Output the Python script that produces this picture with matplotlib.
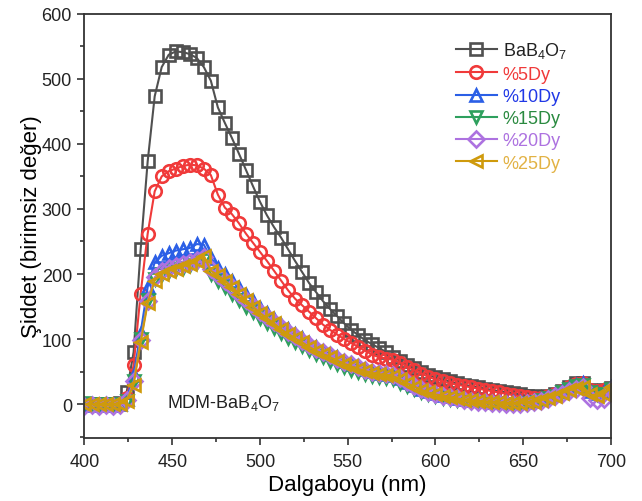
import matplotlib
matplotlib.use("Agg")
import matplotlib.pyplot as plt
from matplotlib.ticker import MultipleLocator

plt.rcParams['font.family'] = ['Liberation Sans', 'DejaVu Sans']
plt.rcParams['mathtext.default'] = 'regular'

# Wavelength grid (nm)
wavelength = list(range(400, 701, 4))

bab4o7 = [0, 0, 0, 0, 0, 2,
          18, 80, 238, 373, 473, 518, 537, 542, 541, 538, 532, 518, 497, 456, 432, 409,
          385, 360, 335, 311, 290, 272, 256, 238, 220, 203,
          186, 172, 158, 146, 135, 124, 114, 106, 98, 92,
          86, 80, 73, 66, 60, 55, 50, 45, 41, 38,
          35, 32, 30, 28, 26, 24, 22, 20, 18, 17,
          15, 13, 12, 11, 12, 15, 20, 26, 32, 33,
          22, 20, 22, 25]
dy5 = [0, 0, 0, 0, 0, 1,
       10, 60, 170, 262, 327, 350, 358, 362, 366, 368, 367, 362, 352, 322, 302, 292,
       278, 262, 248, 234, 220, 205, 190, 175, 162, 152,
       142, 132, 122, 114, 107, 100, 94, 88, 82, 76,
       72, 70, 68, 64, 57, 52, 47, 42, 38, 35,
       32, 30, 28, 26, 24, 22, 20, 18, 16, 14,
       12, 11, 10, 10, 12, 15, 20, 26, 31, 32,
       22, 20, 22, 24]
dy10 = [-2, 0, -1, 0, -1, 1,
        8, 45, 110, 180, 218, 228, 232, 236, 238, 240, 246, 245, 225, 210, 200, 190,
        178, 168, 158, 148, 140, 131, 122, 115, 108, 101,
        94, 88, 82, 77, 72, 67, 62, 58, 54, 51,
        48, 47, 45, 40, 34, 29, 24, 20, 17, 14,
        12, 10, 8, 7, 6, 5, 4, 4, 3, 3,
        3, 4, 5, 8, 11, 15, 20, 25, 30, 33,
        20, 17, 18, 26]
dy15 = [2, 0, 1, 0, 1, 0,
        5, 35, 100, 160, 192, 200, 204, 207, 210, 214, 218, 222, 200, 190, 180, 170,
        160, 150, 141, 132, 124, 117, 110, 102, 95, 89,
        83, 77, 72, 67, 62, 57, 53, 50, 46, 43,
        41, 40, 38, 33, 28, 23, 19, 15, 12, 10,
        8, 6, 5, 4, 3, 2, 2, 1, 1, 1,
        1, 2, 4, 6, 9, 13, 18, 23, 28, 30,
        18, 15, 16, 24]
dy20 = [-3, -2, -3, -2, -3, -1,
        6, 35, 98, 158, 195, 205, 209, 212, 215, 218, 222, 226, 208, 198, 190, 180,
        170, 160, 151, 142, 134, 126, 118, 111, 104, 97,
        91, 85, 80, 75, 70, 65, 61, 57, 53, 50,
        48, 47, 45, 40, 34, 28, 23, 19, 16, 13,
        11, 9, 7, 5, 4, 3, 2, 2, 1, 1,
        1, 2, 3, 5, 8, 12, 16, 20, 24, 26,
        10, 6, 8, 22]
dy25 = [0, 0, 0, 0, 0, 0,
        5, 30, 95, 155, 190, 200, 205, 208, 212, 215, 220, 228, 205, 198, 190, 180,
        170, 160, 150, 140, 132, 124, 115, 108, 101, 95,
        88, 82, 77, 72, 67, 62, 58, 54, 51, 48,
        46, 45, 43, 38, 32, 27, 22, 18, 15, 13,
        11, 9, 7, 6, 5, 4, 3, 3, 2, 2,
        2, 3, 4, 6, 9, 13, 17, 21, 25, 27,
        15, 12, 15, 27]

labels = ['BaB$_4$O$_7$', '%5Dy', '%10Dy', '%15Dy', '%20Dy', '%25Dy']
series = [bab4o7, dy5, dy10, dy15, dy20, dy25]
colors = ['#505050', '#f03a3a', '#2b5fe6', '#2ea05e', '#ad72e0', '#cf9a0c']
text_colors = ['#222222', '#f03a3a', '#2038e6', '#2a8a40', '#ad72e0', '#e2b244']
markers = ['s', 'o', '^', 'v', 'D', '<']
msizes = [8.5, 9, 9, 9, 8, 9]

fig = plt.figure(figsize=(6.42, 5.02), dpi=100)
ax = fig.add_axes([0.1316, 0.1255, 0.8201, 0.8452])

for y, lab, c, m, ms in zip(series, labels, colors, markers, msizes):
    ax.plot(wavelength, y, color=c, lw=1.5, marker=m, ms=ms, mfc='none',
            mec=c, mew=1.9, label=lab)

ax.set_xlim(400, 700)
ax.set_ylim(-52, 600)
ax.xaxis.set_major_locator(MultipleLocator(50))
ax.xaxis.set_minor_locator(MultipleLocator(25))
ax.yaxis.set_major_locator(MultipleLocator(100))
ax.yaxis.set_minor_locator(MultipleLocator(50))
ax.tick_params(which='major', direction='out', length=5, width=1.2,
               labelsize=13, colors='#333333', labelcolor='#222222', pad=4)
ax.tick_params(axis='x', which='major', pad=6)
ax.tick_params(which='minor', direction='out', length=3, width=1.2, colors='#333333')
for s in ax.spines.values():
    s.set_linewidth(1.3)
    s.set_color('#333333')

ax.set_xlabel('Dalgaboyu (nm)', fontsize=16, labelpad=3)
ax.set_ylabel('Şiddet (birimsiz değer)', fontsize=16, labelpad=0)

ax.text(447, 3, 'MDM-BaB$_4$O$_7$', fontsize=13, va='center', ha='left',
        color='#222222')

leg = ax.legend(loc='upper left', bbox_to_anchor=(0.705, 0.937), frameon=False,
                fontsize=13, handlelength=2.3, handletextpad=0.3,
                labelspacing=0.29, borderpad=0, borderaxespad=0)
for t, tc in zip(leg.get_texts(), text_colors):
    t.set_color(tc)

fig.savefig('out.png', dpi=100)
